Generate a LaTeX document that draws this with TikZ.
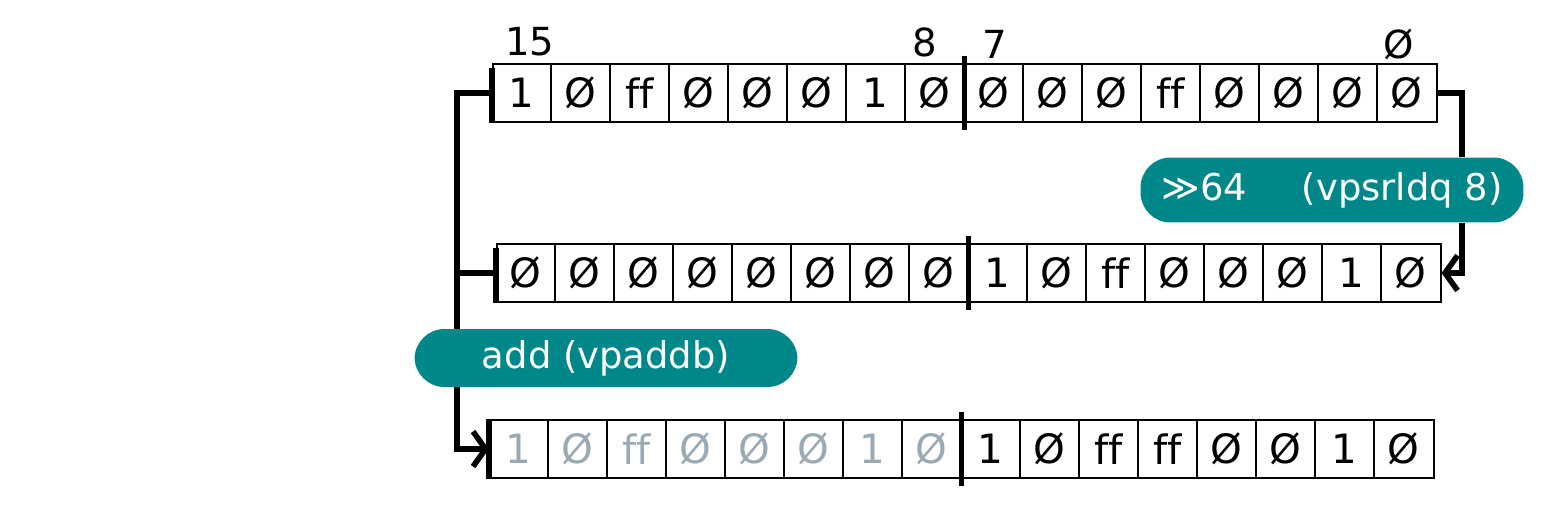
\documentclass[tikz,border=0pt]{standalone}
\usepackage{fontspec}
\setmainfont{DejaVu Sans}[Ligatures=NoCommon]
\usetikzlibrary{arrows.meta,positioning}
\definecolor{tealblob}{HTML}{00878A}
\definecolor{fadedigit}{HTML}{9AAAB4}

\begin{document}
\begin{tikzpicture}[x=0.02cm,y=-0.02cm,
  >={Straight Barb[length=2.5mm,width=7mm]},
  reg/.style={draw,line width=1pt,minimum width=18.88cm,minimum height=1.16cm,inner sep=0pt,anchor=west},
  cell/.style={font=\fontsize{23}{27}\selectfont,inner sep=0pt},
  bitno/.style={font=\fontsize{22}{26}\selectfont,inner sep=0pt},
  blob/.style={fill=tealblob,text=white,rounded corners=0.6cm,minimum width=7.66cm,font=\fontsize{21}{25}\selectfont},
  wire/.style={line width=3.2pt},
  split/.style={line width=3pt}]
\useasboundingbox (0,0) rectangle (1564,514);

% registers
\node[reg] (r1) at (492,93) {};
\node[reg] (r2) at (496,273) {};
\node[reg] (r3) at (489,449) {};

% bit numbers
\node[bitno] (b15) at (530,42) {15};
\node[bitno] (b8) at (925,42) {8};
\node[bitno] (b7) at (995,44) {7};
\node[bitno] (b0) at (1399,44) {Ø};

% cell contents
\foreach \v [count=\i from 0] in {1,Ø,ff,Ø,Ø,Ø,1,Ø,Ø,Ø,Ø,ff,Ø,Ø,Ø,Ø}
  \node[cell] (c1-\i) at (492+\i*59+29.5,93) {\v};
\foreach \v [count=\i from 0] in {Ø,Ø,Ø,Ø,Ø,Ø,Ø,Ø,1,Ø,ff,Ø,Ø,Ø,1,Ø}
  \node[cell] (c2-\i) at (496+\i*59+29.5,273) {\v};
\foreach \v/\c [count=\i from 0] in {1/fadedigit,Ø/fadedigit,ff/fadedigit,Ø/fadedigit,
    Ø/fadedigit,Ø/fadedigit,1/fadedigit,Ø/fadedigit,1/black,Ø/black,ff/black,ff/black,
    Ø/black,Ø/black,1/black,Ø/black}
  \node[cell,text=\c] (c3-\i) at (489+\i*59+29.5,449) {\v};

% cell borders
\foreach \i in {1,...,7,9,10,...,15} {
  \draw[line width=1pt] (492+\i*59,64) -- (492+\i*59,122);
  \draw[line width=1pt] (496+\i*59,244) -- (496+\i*59,302);
  \draw[line width=1pt] (489+\i*59,420) -- (489+\i*59,478);
}
\draw[split] ([yshift=1.5mm]r1.north) -- ([yshift=-1.5mm]r1.south);
\draw[split] ([yshift=1.5mm]r2.north) -- ([yshift=-1.5mm]r2.south);
\draw[split] ([yshift=1.5mm]r3.north) -- ([yshift=-1.5mm]r3.south);
\draw[split] ([yshift=-1mm]r1.north west) -- (r1.south west);
\draw[split] ([yshift=-1mm]r2.north west) -- (r2.south west);
\draw[split] (r3.north west) -- (r3.south west);

% operations
\node[blob,minimum height=1.3cm] (shift) at (1332,190) {≫64\hspace{1.1cm}(vpsrldq 8)};
\node[blob,minimum height=1.16cm] (add) at (606,358) {add (vpaddb)};

% connectors
\coordinate (lbus) at (457,97);
\coordinate (rbus) at (1462,97);
\draw[wire] (r1.west) -- (r1.west -| lbus) -- (lbus |- add.north);
\draw[wire] (lbus |- r2.west) -- (r2.west);
\draw[wire,->] (lbus |- add.south) |- (r3.west);
\draw[wire] (r1.east) -- (r1.east -| rbus) -- (rbus |- shift.north);
\draw[wire,->] (rbus |- shift.south) |- (r2.east);
\end{tikzpicture}
\end{document}
